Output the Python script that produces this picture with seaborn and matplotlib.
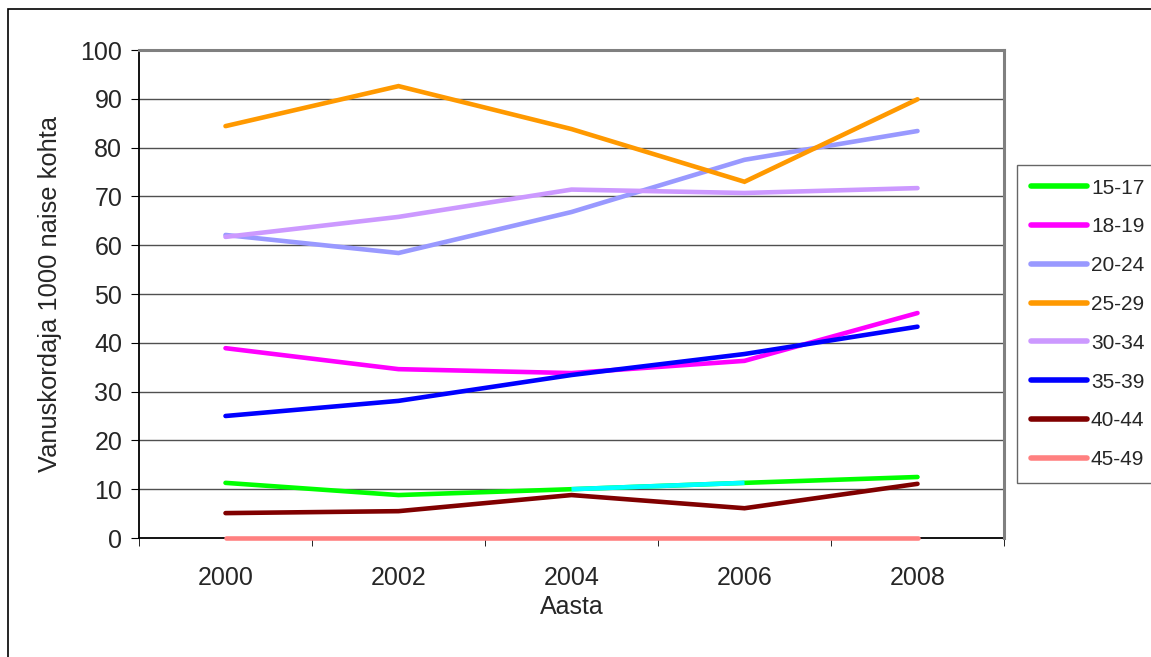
import matplotlib
matplotlib.use("Agg")
import matplotlib.pyplot as plt
import seaborn as sns
import pandas as pd
from matplotlib.patches import Rectangle

# andmed (loetud jooniselt)
years = ["2000", "2002", "2004", "2006", "2008"]
age_groups = ["15-17", "18-19", "20-24", "25-29", "30-34", "35-39", "40-44", "45-49"]
v15_17 = [11.3, 8.8, 10.0, 11.3, 12.5]
v18_19 = [38.9, 34.6, 33.8, 36.3, 46.1]
v20_24 = [62.1, 58.4, 66.8, 77.5, 83.4]
v25_29 = [84.4, 92.6, 83.8, 73.0, 89.9]
v30_34 = [61.7, 65.8, 71.4, 70.7, 71.7]
v35_39 = [25.0, 28.1, 33.4, 37.7, 43.3]
v40_44 = [5.1, 5.5, 8.8, 6.1, 11.1]
v45_49 = [0.0, 0.0, 0.0, 0.0, 0.0]
colors = ["#00FF00", "#FF00FF", "#9999FF", "#FF9900", "#CC99FF", "#0000FF", "#800000", "#FF8080"]

series = [v15_17, v18_19, v20_24, v25_29, v30_34, v35_39, v40_44, v45_49]
rows = []
for g, vals in zip(age_groups, series):
    for i, v in enumerate(vals):
        rows.append({"x": i, "aasta": years[i], "vanus": g, "vaartus": v})
df = pd.DataFrame(rows)

sns.set_style("white")
plt.rcParams['font.family'] = ['Liberation Sans', 'DejaVu Sans']

fig = plt.figure(figsize=(11.51, 6.57), dpi=100)
ax = fig.add_axes([139/1151, 1-538/657, (1004-139)/1151, (538-50)/657])

# ruudustik
for yv in range(10, 100, 10):
    ax.axhline(yv, color="#505050", lw=1.0, zorder=0)

sns.lineplot(data=df, x="x", y="vaartus", hue="vanus", palette=colors,
             hue_order=age_groups, lw=3.3, ax=ax, legend=True,
             solid_capstyle="round", solid_joinstyle="miter")

# 15-17 lõik 2004-2006 on originaalis tsüaan
cyan_part = df[(df["vanus"] == "15-17") & (df["x"].isin([2, 3]))]
sns.lineplot(data=cyan_part, x="x", y="vaartus", color="#00FFFF", lw=3.3,
             ax=ax, legend=False, solid_capstyle="butt")

lines = ax.get_lines()[9:]
for i, ln in enumerate(lines):
    ln.set_clip_on(False)
    ln.set_zorder(3 + i * 0.01)
# tsüaan lõik 15-17 kohal, aga teiste sarjade all
lines[-1].set_zorder(3.005)

ax.set_xlim(-0.5, 4.5)
ax.set_ylim(0, 100)
ax.set_yticks(range(0, 101, 10))
ax.set_xticks(range(5))
ax.set_xticklabels(years)
ax.set_xticks([-0.5, 0.5, 1.5, 2.5, 3.5, 4.5], minor=True)
ax.tick_params(axis="x", which="major", length=0, labelsize=18, pad=20)
ax.tick_params(axis="x", which="minor", length=6, color="black", direction="out", bottom=True)
ax.tick_params(axis="y", length=6, color="black", direction="out", labelsize=18, pad=6, left=True)

ax.set_xlabel("Aasta", fontsize=18, labelpad=4)
ax.set_ylabel("Vanuskordaja 1000 naise kohta", fontsize=18.4, labelpad=13)

for s in ["top", "right"]:
    ax.spines[s].set_color("#808080")
    ax.spines[s].set_linewidth(2.2)
for s in ["left", "bottom"]:
    ax.spines[s].set_color("black")
    ax.spines[s].set_linewidth(1.3)
    ax.spines[s].set_zorder(2)

handles, labels = ax.get_legend_handles_labels()
ax.legend_.remove()
leg = fig.legend(handles[:8], labels[:8], loc="upper left",
                 bbox_to_anchor=(1017/1151, 1-165/657), fontsize=15,
                 frameon=True, fancybox=False, edgecolor="#404040",
                 handlelength=2.7, handletextpad=0.2, labelspacing=0.95,
                 borderpad=0.65, borderaxespad=0)
leg.get_frame().set_linewidth(1.0)
for h in leg.get_lines():
    h.set_linewidth(4)

# välimine raam
fig.patches.append(Rectangle((8/1151, -0.1), 1.2, 1 - 9/657 + 0.1,
                             transform=fig.transFigure, fill=False,
                             edgecolor="black", lw=1.2))

fig.savefig("out.png", dpi=100)
